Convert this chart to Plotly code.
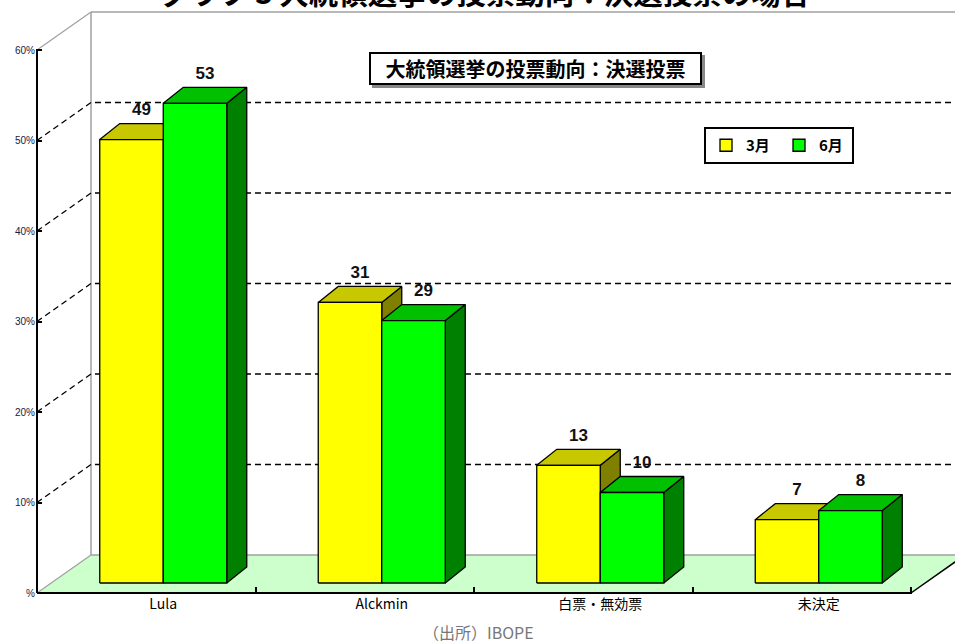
import plotly.graph_objects as go

# ---------------- data ----------------
categories = ["Lula", "Alckmin", "白票・無効票", "未決定"]
series_names = ["3月", "6月"]
march = [49, 31, 13, 7]
june = [53, 29, 10, 8]
ytick_vals = [0, 10, 20, 30, 40, 50, 60]
ytick_text = ["%", "10%", "20%", "30%", "40%", "50%", "60%"]
title_text = "グラフ 3 大統領選挙の投票動向：決選投票の場合"
inset_title = "大統領選挙の投票動向：決選投票"
source_text = "（出所）IBOPE"

# ---------------- geometry (pixel scale -> data units) ----------------
XS = 218.5   # px per category
YS = 9.05    # px per percent
X0PX, Y0PY = 37, 593
PLOT_L, PLOT_R, PLOT_T, PLOT_B = 36, 955, 0, 594
W, H = 955, 643

xmin = (PLOT_L - X0PX) / XS
xmax = (PLOT_R - X0PX) / XS
ymin = (Y0PY - PLOT_B) / YS
ymax = (Y0PY - PLOT_T) / YS

dwx, dwy = 54 / XS, 38 / YS      # back wall depth
dxb, dyb = 17 / XS, 10 / YS      # bar plane offset
ddx, ddy = 20 / XS, 16 / YS      # bar depth
bw = 63.5 / XS                   # bar width
label_pad = 4 / YS               # gap between bar top and its label
ncat = len(categories)
ymaxv = ytick_vals[-1]

colors = {
    "3月": ("#FFFF00", "#C8C800", "#808000"),
    "6月": ("#00FF00", "#00C000", "#008000"),
}

fig = go.Figure()


def poly(xs, ys, fill, line_color=None, width=1.3):
    fig.add_trace(go.Scatter(
        x=xs + [xs[0]], y=ys + [ys[0]], mode="lines", fill="toself",
        fillcolor=fill,
        line=dict(color=line_color if line_color else fill, width=width if line_color else 0),
        showlegend=False, hoverinfo="skip"))


def line(xs, ys, color, width=1.0, dash=None):
    fig.add_trace(go.Scatter(
        x=xs, y=ys, mode="lines",
        line=dict(color=color, width=width, dash=dash),
        showlegend=False, hoverinfo="skip"))


# floor
poly([0, ncat, ncat + dwx, dwx], [0, 0, dwy, dwy], "#CCFFCC")
line([0, dwx], [0, dwy], "#A0A0A0", 1.2)
line([dwx, xmax], [dwy, dwy], "#A0A0A0", 1.5)
line([ncat, ncat + dwx], [0, dwy], "#000000", 1.5)

# walls
line([dwx, dwx], [dwy, ymaxv + dwy], "#A0A0A0", 1.5)
line([dwx, xmax], [ymaxv + dwy, ymaxv + dwy], "#A0A0A0", 1.5)
line([0, dwx], [ymaxv, ymaxv + dwy], "#A0A0A0", 1.2)

# gridlines (left wall diagonal + back wall)
for v in ytick_vals[1:-1]:
    line([0, dwx, xmax], [v, v + dwy, v + dwy], "#000000", 1.3, "6px,4px")

# front axes
line([0, 0], [0, ymaxv], "#000000", 2)
line([0, ncat], [0, 0], "#000000", 2)

# bars
centers = [i + 0.5 + dxb for i in range(ncat)]
label_x, label_y, label_t = [], [], []
for i, c in enumerate(centers):
    for j, (name, vals) in enumerate(zip(series_names, [march, june])):
        v = vals[i]
        x0 = c - bw + j * bw
        x1 = x0 + bw
        b = dyb
        front, top, side = colors[name]
        poly([x1, x1 + ddx, x1 + ddx, x1], [b, b + ddy, b + v + ddy, b + v], side, "#000000")
        poly([x0, x1, x1 + ddx, x0 + ddx], [b + v, b + v, b + v + ddy, b + v + ddy], top, "#000000")
        poly([x0, x1, x1, x0], [b, b, b + v, b + v], front, "#000000")
        label_x.append((x0 + x1) / 2 + ddx / 2)
        label_y.append(b + v + ddy + label_pad)
        label_t.append("<b>" + str(v) + "</b>")

fig.add_trace(go.Scatter(
    x=label_x, y=label_y, text=label_t, mode="text", textposition="top center",
    textfont=dict(family="Arial", size=17, color="#111111"),
    showlegend=False, hoverinfo="skip", cliponaxis=False))

# legend entries
for name in series_names:
    fig.add_trace(go.Bar(x=[None], y=[None], name="<b>" + name + "</b>",
                         marker=dict(color=colors[name][0], line=dict(color="#000000", width=1.3))))

pw = PLOT_R - PLOT_L
ph = PLOT_B - PLOT_T


def px2paper(px, py):
    return (px - PLOT_L) / pw, (PLOT_B - py) / ph


annotations = []
tx, ty = px2paper(485, 0)
annotations.append(dict(text="<b>" + title_text + "</b>", x=tx, y=ty, xref="paper", yref="paper",
                        xanchor="center", yanchor="middle", showarrow=False, yshift=9,
                        font=dict(family="Noto Sans CJK JP", size=29.5, color="#000000")))
bx, by = px2paper(535, 69)
annotations.append(dict(text="&nbsp;", x=bx, y=by, xref="paper", yref="paper",
                        xanchor="center", yanchor="middle", showarrow=False, xshift=3, yshift=-3,
                        width=329, height=29, bgcolor="#888888", bordercolor="#888888", borderwidth=2,
                        borderpad=0, font=dict(family="Noto Sans CJK JP", size=20, color="#888888")))
annotations.append(dict(text="<b>" + inset_title + "</b>", x=bx, y=by, xref="paper", yref="paper",
                        xanchor="center", yanchor="middle", showarrow=False,
                        width=329, height=29, bgcolor="#FFFFFF", bordercolor="#000000", borderwidth=2,
                        borderpad=0, font=dict(family="Noto Sans CJK JP", size=20, color="#000000")))
sx, sy = px2paper(478, 632)
annotations.append(dict(text=source_text, x=sx, y=sy, xref="paper", yref="paper",
                        xanchor="center", yanchor="middle", showarrow=False,
                        font=dict(family="Noto Sans CJK JP", size=16, color="#777777")))

lx, ly = px2paper(704, 127)
fig.update_layout(
    width=W, height=H,
    margin=dict(l=PLOT_L, r=W - PLOT_R, t=PLOT_T, b=H - PLOT_B),
    paper_bgcolor="#FFFFFF", plot_bgcolor="#FFFFFF",
    showlegend=True,
    legend=dict(orientation="h", x=lx, y=ly, xanchor="left", yanchor="top",
                bgcolor="#FFFFFF", bordercolor="#000000", borderwidth=2,
                font=dict(family="Noto Sans CJK JP", size=15, color="#000000"),
                itemwidth=30, entrywidth=28, traceorder="normal"),
    annotations=annotations,
    xaxis=dict(range=[xmin, xmax], showgrid=False, zeroline=False, showline=False,
               tickmode="array", tickvals=centers, ticktext=categories, ticks="",
               tickfont=dict(family="Noto Sans CJK JP", size=14, color="#000000"),
               minor=dict(tickmode="array", tickvals=[1, 2, 3, 4], ticks="inside",
                          ticklen=7, tickwidth=1.5, tickcolor="#000000", showgrid=False)),
    yaxis=dict(range=[ymin, ymax], showgrid=False, zeroline=False, showline=False,
               tickmode="array", tickvals=ytick_vals, ticktext=ytick_text,
               ticks="inside", ticklen=6, tickwidth=1.5, tickcolor="#000000",
               tickfont=dict(family="Arial", size=10, color="#1a2040")),
    bargap=0.2,
)

fig.write_html("out.html", config={"displayModeBar": False},
               post_script="document.body.style.margin='0';document.body.style.overflow='hidden';")
